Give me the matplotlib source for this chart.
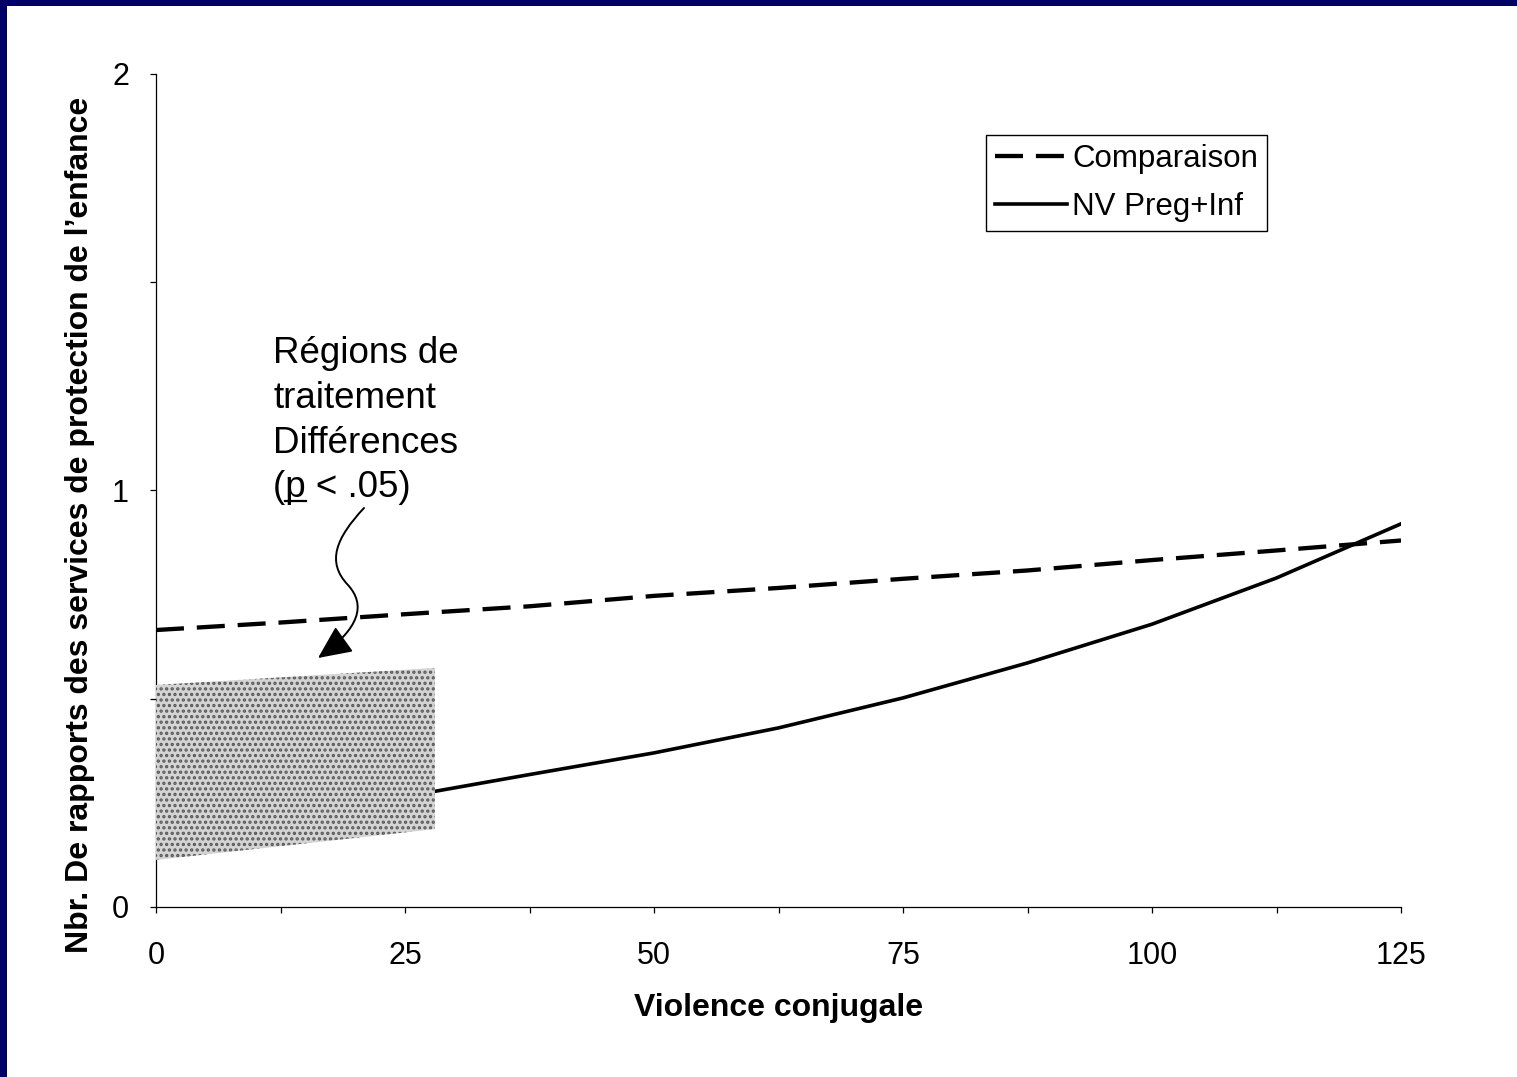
import matplotlib
matplotlib.use('Agg')
import matplotlib.pyplot as plt
import numpy as np
from matplotlib.patches import Rectangle, FancyArrowPatch
from matplotlib.path import Path
from matplotlib.lines import Line2D

plt.rcParams['font.family'] = ['Liberation Sans', 'DejaVu Sans']
plt.rcParams['hatch.linewidth'] = 1.6

# données
violence = [0, 12.5, 25, 37.5, 50, 62.5, 75, 87.5, 100, 112.5, 125]
comparaison = [0.665, 0.683, 0.703, 0.722, 0.747, 0.766, 0.788, 0.808, 0.833, 0.856, 0.880]
nv_preg_inf = [0.170, 0.215, 0.265, 0.318, 0.370, 0.430, 0.502, 0.586, 0.679, 0.790, 0.920]

# région de différence significative
region_x = [0, 28]
region_low = [0.113, 0.187]
region_high = [0.533, 0.574]

x_ticks = np.arange(0, 126, 12.5)
x_ticklabels = ['0', '', '25', '', '50', '', '75', '', '100', '', '125']
y_ticks = [0, 0.5, 1, 1.5, 2]
y_ticklabels = ['0', '', '1', '', '2']

note_lines = ['Régions de', 'traitement', 'Différences', '(p < .05)']

W, H = 1517, 1077
fig = plt.figure(figsize=(W / 100, H / 100), dpi=100, facecolor='white')
ax = fig.add_axes([156 / W, 1 - 907 / H, (1401 - 156) / W, (907 - 74) / H])

# cadre bleu marine (haut et gauche)
fig.add_artist(Rectangle((0, 1 - 6 / H), 1, 6 / H, transform=fig.transFigure,
                         facecolor='#000066', edgecolor='none'))
fig.add_artist(Rectangle((0, 0), 7 / W, 1, transform=fig.transFigure,
                         facecolor='#000066', edgecolor='none'))

l_comp, = ax.plot(violence, comparaison, color='black', linewidth=3.1,
                  dashes=(6.5, 3), zorder=2)
l_nv, = ax.plot(violence, nv_preg_inf, color='black', linewidth=2.6, zorder=2)

ax.fill_between(region_x, region_low, region_high, facecolor='#d4d4d4',
                edgecolor='#5a5a5a', hatch='...', linewidth=0, zorder=3)

ax.set_xlim(0, 125)
ax.set_ylim(0, 2)
ax.set_xticks(x_ticks)
ax.set_xticklabels(x_ticklabels)
ax.set_yticks(y_ticks)
ax.set_yticklabels(y_ticklabels)
ax.tick_params(axis='both', direction='out', length=4.5, width=0.9, labelsize=22)
ax.tick_params(axis='x', pad=20)
ax.tick_params(axis='y', pad=15)
for s in ['top', 'right']:
    ax.spines[s].set_visible(False)
for s in ['left', 'bottom']:
    ax.spines[s].set_linewidth(0.9)

ax.set_xlabel('Violence conjugale', fontsize=23, fontweight='bold')
ax.set_ylabel('Nbr. De rapports des services de protection de l\u2019enfance',
              fontsize=23, fontweight='bold')
ax.xaxis.set_label_coords(0.5, (907 - 993) / 833)
ax.yaxis.set_label_coords((95 - 156) / 1245, (907 - 525) / 833)

ax.legend([l_comp, l_nv], ['Comparaison', 'NV Preg+Inf'], loc='upper left',
          bbox_to_anchor=(986 / W, 1 - 135 / H), bbox_transform=fig.transFigure,
          frameon=True, fancybox=False, edgecolor='black', framealpha=1,
          fontsize=22.5, handlelength=2.3, handletextpad=0.15, borderpad=0.3,
          labelspacing=0.55, borderaxespad=0)

# texte de l'annotation
baselines = [363, 408, 453, 497]
for txt, yb in zip(note_lines, baselines):
    fig.text(273 / W, 1 - yb / H, txt, fontsize=26.5, va='baseline', ha='left')

# soulignement du p
fig.canvas.draw()
r = fig.canvas.get_renderer()
t1 = fig.text(273 / W, 1 - 497 / H, '(', fontsize=26.5, va='baseline', alpha=0)
t2 = fig.text(273 / W, 1 - 497 / H, '(p', fontsize=26.5, va='baseline', alpha=0)
x0 = t1.get_window_extent(r).x1
x1 = t2.get_window_extent(r).x1
yu = H - 501
fig.add_artist(Line2D([x0 / W, x1 / W], [yu / H, yu / H], transform=fig.transFigure,
                      color='black', linewidth=1.6))

# flèche ondulée
pts = [(364, 508), (336, 538), (326, 562), (348, 585),
       (366, 605), (360, 628), (318, 658)]
verts = [(px / W, 1 - py / H) for px, py in pts]
codes = [Path.MOVETO] + [Path.CURVE4] * 6
arrow = FancyArrowPatch(path=Path(verts, codes), transform=fig.transFigure,
                        arrowstyle='-|>,head_length=0.65,head_width=0.3',
                        mutation_scale=32, color='black', linewidth=1.4)
fig.add_artist(arrow)

fig.savefig('out.png', dpi=100, facecolor='white')
